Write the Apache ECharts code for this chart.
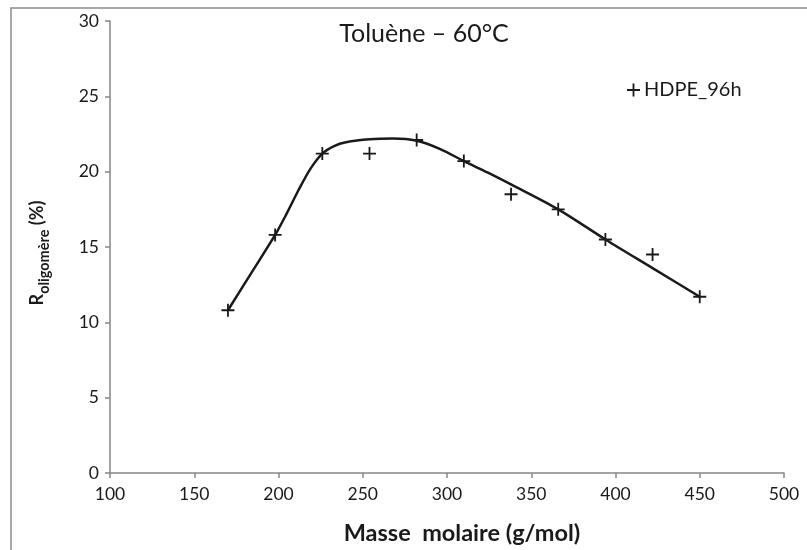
<!DOCTYPE html>
<html>
<head>
<meta charset="utf-8">
<script src="https://cdn.jsdelivr.net/npm/echarts@6/dist/echarts.min.js"></script>
<style>html,body{margin:0;padding:0;background:#fff}#c{width:807px;height:550px}</style>
</head>
<body>
<div id="c"></div>
<script>
// Measured points (HDPE_96h)
var masse = [170, 198, 226, 254, 282, 310, 338, 366, 394, 422, 450];
var rendement = [10.8, 15.8, 21.2, 21.2, 22.1, 20.7, 18.5, 17.5, 15.5, 14.5, 11.7];
// Smoothed curve
var curveX = [170, 184, 198, 205, 212, 219, 226, 233, 240, 254, 268, 282, 296, 310, 324, 338, 366, 394, 422, 450];
var curveY = [10.8, 13.3, 15.8, 17.25, 18.8, 20.2, 21.2, 21.7, 21.95, 22.15, 22.2, 22.05, 21.5, 20.7, 19.95, 19.15, 17.5, 15.5, 13.6, 11.7];
var xTicks = [100, 150, 200, 250, 300, 350, 400, 450, 500];
var yTicks = [0, 5, 10, 15, 20, 25, 30];

var FONT = 'Lato, "Open Sans", sans-serif';
var PLUS = 'path://M4.3,0H5.7V4.3H10V5.7H5.7V10H4.3V5.7H0V4.3H4.3Z';

var chart = echarts.init(document.getElementById('c'), null, {renderer: 'canvas'});
chart.setOption({
  animation: false,
  backgroundColor: '#fff',
  graphic: [{
    type: 'rect', shape: {x: 11, y: 8, width: 820, height: 560},
    style: {fill: 'none', stroke: '#8c8c8c', lineWidth: 1.5}, silent: true, z: -1
  }],
  title: {
    text: 'Toluène – 60°C', left: 419, top: 16, textAlign: 'center',
    textStyle: {fontFamily: FONT, fontSize: 25, fontWeight: 'normal', color: '#1a1a1a'}
  },
  legend: {
    data: [{name: 'HDPE_96h', icon: PLUS}],
    left: 622, top: 75, itemWidth: 13, itemHeight: 13, itemGap: 4,
    textStyle: {fontFamily: FONT, fontSize: 20, color: '#1a1a1a', padding: [0, 0, 0, -1]}
  },
  grid: {left: 110, right: 23, top: 21, bottom: 74, containLabel: false},
  xAxis: {
    type: 'value', min: xTicks[0], max: xTicks[xTicks.length - 1], interval: 50,
    name: 'Masse  molaire (g/mol)', nameLocation: 'middle', nameGap: 48,
    nameTextStyle: {fontFamily: FONT, fontSize: 23.5, fontWeight: 'bold', color: '#1a1a1a', padding: [0, 0, 0, 30]},
    axisLine: {lineStyle: {color: '#868686', width: 1.5}},
    axisTick: {show: true, length: 5, lineStyle: {color: '#868686', width: 1.5}},
    axisLabel: {fontFamily: FONT, fontSize: 17.5, color: '#1a1a1a', margin: 12},
    splitLine: {show: false}
  },
  yAxis: {
    type: 'value', min: yTicks[0], max: yTicks[yTicks.length - 1], interval: 5,
    name: '{a|R}{b|oligomère}{a| (%)}', nameLocation: 'middle', nameGap: 64, nameRotate: 90,
    nameTextStyle: {
      fontFamily: FONT, color: '#1a1a1a', padding: [0, 12, 0, 0],
      rich: {
        a: {fontFamily: FONT, fontSize: 18, fontWeight: 'bold', color: '#1a1a1a', verticalAlign: 'bottom', lineHeight: 24},
        b: {fontFamily: FONT, fontSize: 14.5, fontWeight: 'bold', color: '#1a1a1a', verticalAlign: 'bottom', lineHeight: 24, padding: [0, 0, -6, 0]}
      }
    },
    axisLine: {show: true, lineStyle: {color: '#868686', width: 1.5}},
    axisTick: {show: true, length: 5, lineStyle: {color: '#868686', width: 1.5}},
    axisLabel: {fontFamily: FONT, fontSize: 17.5, color: '#1a1a1a', margin: 11},
    splitLine: {show: false}
  },
  series: [
    {
      name: 'curve', type: 'line', smooth: 0.3, showSymbol: false, symbol: 'none',
      data: curveX.map(function (x, i) { return [x, curveY[i]]; }),
      lineStyle: {color: '#1a1a1a', width: 2.5}, z: 2, silent: true
    },
    {
      name: 'HDPE_96h', type: 'scatter', symbol: PLUS, symbolSize: 13,
      data: masse.map(function (x, i) { return [x, rendement[i]]; }),
      itemStyle: {color: '#1a1a1a', opacity: 1}, z: 3
    }
  ]
});
</script>
</body>
</html>
